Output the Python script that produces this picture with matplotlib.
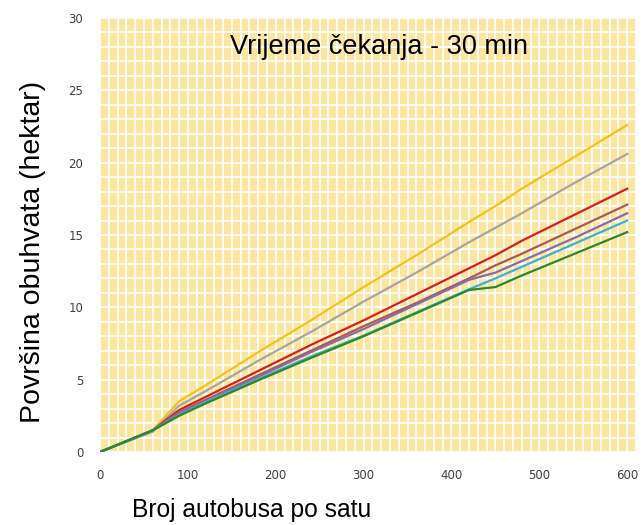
import numpy as np
import matplotlib
matplotlib.use("Agg")
import matplotlib.pyplot as plt

# broj autobusa po satu
x = [0, 60, 90, 120, 180, 240, 300, 360, 420, 450, 480, 540, 600]

# povrsina obuhvata (hektar), procitano sa slike
zuta = [0, 1.5, 3.5, 4.6, 6.9, 9.1, 11.4, 13.6, 15.9, 17.0, 18.2, 20.4, 22.6]
siva = [0, 1.4, 3.2, 4.2, 6.3, 8.3, 10.4, 12.4, 14.5, 15.5, 16.5, 18.6, 20.6]
crvena = [0, 1.5, 2.9, 3.8, 5.6, 7.4, 9.1, 10.9, 12.7, 13.6, 14.6, 16.4, 18.2]
smeda = [0, 1.5, 2.75, 3.6, 5.3, 7.0, 8.7, 10.3, 12.0, 12.9, 13.7, 15.4, 17.1]
ljubicasta = [0, 1.5, 2.7, 3.5, 5.2, 6.9, 8.5, 10.2, 11.9, 12.4, 13.2, 14.8, 16.5]
plava = [0, 1.5, 2.55, 3.45, 5.05, 6.6, 8.05, 9.65, 11.25, 12.0, 12.8, 14.4, 16.0]
zelena = [0, 1.5, 2.5, 3.35, 4.95, 6.5, 8.0, 9.6, 11.2, 11.4, 12.2, 13.7, 15.2]

serije = [
    (zuta, '#F2C21B'),
    (siva, '#A8A4A0'),
    (crvena, '#D81E1E'),
    (smeda, '#A85A55'),
    (ljubicasta, '#8A6AA8'),
    (plava, '#3FB0CF'),
    (zelena, '#2A8A2A'),
]

fig = plt.figure(figsize=(6.42, 5.25), dpi=100)
ax = fig.add_axes([100/642, 1-452/525, 536/642, 434/525])
ax.set_facecolor('#FAE6A0')

for y, boja in serije:
    ax.plot(x, y, color=boja, lw=1.6, zorder=3)

ax.set_xlim(0, 610)
ax.set_ylim(0, 30)
ax.set_xticks(range(0, 601, 100))
ax.set_yticks(range(0, 31, 5))
ax.set_xticks(np.arange(0, 611, 10), minor=True)
ax.set_yticks(np.arange(0, 31, 1), minor=True)
ax.grid(which='both', color='white', lw=1.2, zorder=1)
ax.set_axisbelow(True)
for s in ax.spines.values():
    s.set_visible(False)
ax.tick_params(which='both', length=0, labelsize=8.5, labelcolor='#404040')
ax.tick_params(axis='y', pad=12)
ax.tick_params(axis='x', pad=12)

fig.text(379/642, 1-47/525, 'Vrijeme čekanja - 30 min',
         ha='center', va='center', fontsize=19.5, family='Liberation Sans')
fig.text(33/642, 1-252/525, 'Površina obuhvata (hektar)', rotation=90,
         ha='center', va='center', fontsize=20.5, family='Liberation Sans')
fig.text(252/642, 1-510/525, 'Broj autobusa po satu',
         ha='center', va='center', fontsize=17.7, family='Liberation Sans')

fig.savefig('out.png', dpi=100)
